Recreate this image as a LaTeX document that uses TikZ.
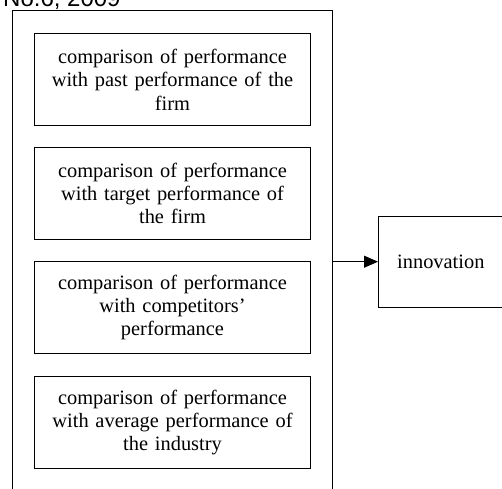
\documentclass[tikz,border=0pt]{standalone}
\usepackage{fontspec}
\setmainfont{Liberation Serif}
\newfontfamily\headfont{Liberation Sans}
\usetikzlibrary{arrows.meta}
\begin{document}
\begin{tikzpicture}[x=1pt,y=-1pt,
  inbox/.style={draw, line width=1pt, anchor=north west, minimum width=276pt, minimum height=92pt,
    inner sep=0pt, text width=260pt, align=center,
    font=\fontsize{20.4pt}{23.4pt}\selectfont},
  linkarrow/.style={line width=1pt, -{Triangle[length=14pt,width=12pt]}}]
\useasboundingbox (0,0) rectangle (502,488);
\clip (0,0) rectangle (502,488);
\fill[white] (0,0) rectangle (502,488);
\node[anchor=base west, inner sep=0pt, font=\headfont\fontsize{24pt}{28pt}\selectfont] (hdr) at (3,6) {No.6, 2009};
\node[draw, line width=1.2pt, anchor=north west, minimum width=320pt, minimum height=500pt, inner sep=0pt] (outer) at (12,10) {};
\node[inbox] (b1) at (34,33) {comparison of performance\\with past performance of the\\firm};
\node[inbox] (b2) at (34,147) {comparison of performance\\with target performance of\\the firm};
\node[inbox] (b3) at (34,261) {comparison of performance\\with competitors'\\performance};
\node[inbox] (b4) at (34,376) {comparison of performance\\with average performance of\\the industry};
\node[anchor=north west, minimum height=91pt, text width=160pt, inner xsep=19pt, inner ysep=0pt, align=left,
  font=\fontsize{20.4pt}{23.4pt}\selectfont] (inn) at (378,216) {innovation};
\draw[line width=1pt] (inn.north east) -- (inn.north west) -- (inn.south west) -- (inn.south east);
\draw[linkarrow] (outer.east |- inn.west) -- (inn.west);
\end{tikzpicture}
\end{document}
